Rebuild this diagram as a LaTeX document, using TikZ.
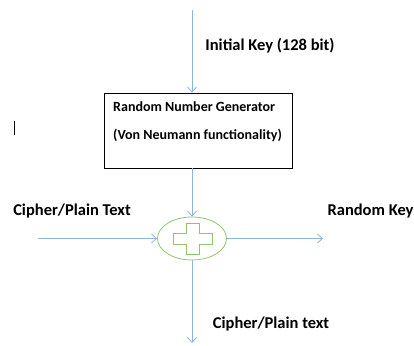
\documentclass[tikz,border=0pt]{standalone}
\usepackage{fontspec}
\setmainfont{Carlito}
\usetikzlibrary{arrows.meta,shapes.geometric}
\definecolor{arrowblue}{RGB}{140,180,226}
\definecolor{plusgreen}{RGB}{146,196,110}
\tikzset{
  flow/.style={draw=arrowblue, line width=0.8pt, -{Straight Barb[length=5pt,width=9pt]}},
  lbl/.style={font=\bfseries\fontsize{16.5}{18}\selectfont, inner sep=0pt},
  boxlbl/.style={font=\bfseries\fontsize{14}{16}\selectfont, inner sep=0pt, anchor=west},
  rng/.style={draw=black, line width=0.7pt, minimum width=188pt, minimum height=75pt, inner sep=0pt},
  xorop/.style={draw=plusgreen, line width=0.8pt, ellipse, minimum width=69pt, minimum height=43pt, inner sep=0pt}
}
\begin{document}
\begin{tikzpicture}[x=1pt,y=-1pt]
\useasboundingbox (0,0) rectangle (414,345);
\node[rng] (box) at (198,130.5) {};
\node[boxlbl] (t1) at (113,107) {Random Number Generator};
\node[boxlbl] (t2) at (113,135) {(Von Neumann functionality)};
\node[xorop] (x) at (192,238.5) {};
\draw[plusgreen, line width=0.8pt] (186,223) -- (199,223) -- (199,233) -- (212,233) -- (212,244) -- (199,244) -- (199,254) -- (186,254) -- (186,244) -- (173,244) -- (173,233) -- (186,233) -- cycle;
\coordinate (top) at (192,10);
\coordinate (left) at (38,238.5);
\coordinate (right) at (323,238.5);
\coordinate (bot) at (192,343);
\draw[flow] (top) -- (top |- box.north);
\draw[flow] (box.south -| x.north) -- (x.north);
\draw[flow] (left) -- (x.west);
\draw[flow] (x.east) -- (right);
\draw[flow] (x.south) -- (bot);
\node[lbl] (ik) at (270,46) {Initial Key (128 bit)};
\node[lbl] (cp) at (72,211) {Cipher/Plain Text};
\node[lbl] (rk) at (370.5,211) {Random Key};
\node[lbl] (cpo) at (271,324) {Cipher/Plain text};
\draw[black, line width=1.5pt] (14.5,121) -- (14.5,135);
\end{tikzpicture}
\end{document}
